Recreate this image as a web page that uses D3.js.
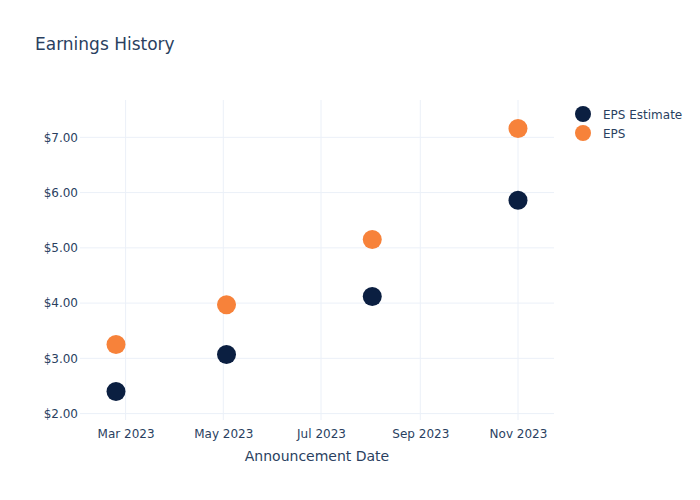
<!DOCTYPE html>
<html>
<head>
<meta charset="utf-8">
<title>Earnings History</title>
<style>
  body { margin: 0; background: #fff; }
  svg text { font-family: "DejaVu Sans", Verdana, sans-serif; fill: #2a3f5f; }
</style>
<script src="https://d3js.org/d3.v7.min.js"></script>
</head>
<body>
<svg id="chart" width="700" height="500"></svg>
<script>
// data
var dates = ["2023-02-23", "2023-05-03", "2023-08-02", "2023-11-01"];
var epsEstimate = [2.40, 3.07, 4.12, 5.86];
var epsActual = [3.25, 3.97, 5.15, 7.16];
var seriesNames = ["EPS Estimate", "EPS"];
var seriesColors = ["#0b1f41", "#f7823a"];
var yTicks = [2, 3, 4, 5, 6, 7];
var xTicks = ["2023-03-01", "2023-05-01", "2023-07-01", "2023-09-01", "2023-11-01"];

var parse = d3.timeParse("%Y-%m-%d");
var svg = d3.select("#chart");

// plot box
var plotL = 80, plotR = 554, plotT = 100, plotB = 420;
var padX = 36, padY = 28.5;

var x = d3.scaleTime()
  .domain(d3.extent(dates, parse))
  .range([plotL + padX, plotR - padX]);

var allVals = epsEstimate.concat(epsActual);
var y = d3.scaleLinear()
  .domain(d3.extent(allVals))
  .range([plotB - padY, plotT + padY]);

// grid
svg.append("g")
  .selectAll("line")
  .data(xTicks)
  .join("line")
  .attr("x1", d => x(parse(d))).attr("x2", d => x(parse(d)))
  .attr("y1", plotT).attr("y2", plotB)
  .attr("stroke", "#ebf0f8").attr("stroke-width", 1);

svg.append("g")
  .selectAll("line")
  .data(yTicks)
  .join("line")
  .attr("x1", plotL).attr("x2", plotR)
  .attr("y1", d => y(d)).attr("y2", d => y(d))
  .attr("stroke", "#ebf0f8").attr("stroke-width", 1);

// axes (labels only, like plotly)
var xAxis = d3.axisBottom(x)
  .tickValues(xTicks.map(parse))
  .tickFormat(d3.timeFormat("%b %Y"))
  .tickSize(0).tickPadding(9);
var gx = svg.append("g").attr("transform", "translate(0," + plotB + ")").call(xAxis);
gx.select(".domain").remove();
gx.selectAll("text").style("font-size", "12px").attr("fill", "#2a3f5f")
  .style("font-family", "'DejaVu Sans', Verdana, sans-serif");

var yAxis = d3.axisLeft(y)
  .tickValues(yTicks)
  .tickFormat(d => "$" + d3.format(".2f")(d))
  .tickSize(0).tickPadding(2);
var gy = svg.append("g").attr("transform", "translate(" + plotL + ",0)").call(yAxis);
gy.select(".domain").remove();
gy.selectAll("text").style("font-size", "12px").attr("fill", "#2a3f5f")
  .style("font-family", "'DejaVu Sans', Verdana, sans-serif");

// points
var series = [epsEstimate, epsActual];
series.forEach(function(vals, i) {
  svg.append("g")
    .selectAll("circle")
    .data(vals)
    .join("circle")
    .attr("cx", (d, j) => x(parse(dates[j])))
    .attr("cy", d => y(d))
    .attr("r", 9.5)
    .attr("fill", seriesColors[i]);
});

// titles
svg.append("text")
  .attr("x", 35).attr("y", 50)
  .style("font-size", "17px")
  .text("Earnings History");

svg.append("text")
  .attr("x", (plotL + plotR) / 2).attr("y", 461)
  .attr("text-anchor", "middle")
  .style("font-size", "14px")
  .text("Announcement Date");

// legend
var legend = svg.append("g").selectAll("g")
  .data(seriesNames)
  .join("g")
  .attr("transform", (d, i) => "translate(583," + (114 + i * 19) + ")");
legend.append("circle").attr("r", 8).attr("fill", (d, i) => seriesColors[i]);
legend.append("text")
  .attr("x", 20).attr("y", 4.5)
  .style("font-size", "12px")
  .text(d => d);
</script>
</body>
</html>
